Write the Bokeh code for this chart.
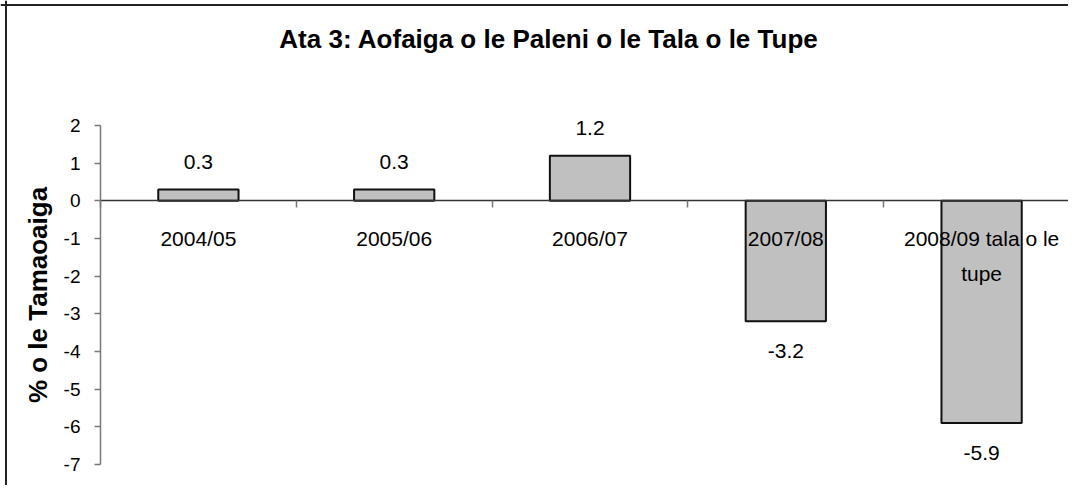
from bokeh.plotting import figure
from bokeh.models import (ColumnDataSource, FixedTicker, Range1d, Label, Span,
                          LinearAxis, CustomJSTickFormatter)
from bokeh.core.properties import value
from bokeh.embed import file_html
from bokeh.resources import INLINE

# ---- data ----
categories = ["2004/05", "2005/06", "2006/07", "2007/08", "2008/09 tala o le\ntupe"]
values = [0.3, 0.3, 1.2, -3.2, -5.9]
value_labels = ["0.3", "0.3", "1.2", "-3.2", "-5.9"]
y_ticks = [-7, -6, -5, -4, -3, -2, -1, 0, 1, 2]
title_text = "Ata 3: Aofaiga o le Paleni o le Tala o le Tupe"
y_title = "% o le Tamaoaiga"

FONT = "Liberation Sans"
n = len(categories)
xs = list(range(1, n + 1))
src = ColumnDataSource(dict(
    x=xs, top=values, cat=categories, lab=value_labels,
    off=[-28 if v >= 0 else 30 for v in values],
))

# frame covers the whole canvas; axes are placed at fixed data locations
W, H = 1068, 485
px_x = 195.8      # pixels per category
px_y = 37.667     # pixels per unit
x0 = 0.5 - 100 / px_x
x1 = x0 + W / px_x
y1 = 2 + 125 / px_y
y0 = y1 - H / px_y

p = figure(width=W, height=H, output_backend="svg", toolbar_location=None,
           x_range=Range1d(x0, x1), y_range=Range1d(y0, y1),
           min_border=0, x_axis_location=None, y_axis_location=None)
p.outline_line_color = None
p.xgrid.visible = False
p.ygrid.visible = False
p.background_fill_color = "white"
p.border_fill_color = "white"

# y axis
ya = LinearAxis(fixed_location=0.5, bounds=(min(y_ticks), max(y_ticks)))
ya.ticker = FixedTicker(ticks=y_ticks)
ya.formatter = CustomJSTickFormatter(code="return tick.toFixed(0)")
ya.minor_tick_line_color = None
ya.major_tick_in = 0
ya.major_tick_out = 6
ya.axis_line_color = "#777777"
ya.major_tick_line_color = "#777777"
ya.axis_line_width = 1.5
ya.major_tick_line_width = 1.5
ya.major_label_text_font = FONT
ya.major_label_text_font_size = "19px"
ya.major_label_text_color = "black"
ya.major_label_standoff = 14
ya.axis_label = y_title
ya.axis_label_text_font = FONT
ya.axis_label_text_font_size = "26px"
ya.axis_label_text_font_style = "bold"
ya.axis_label_text_color = "black"
ya.axis_label_standoff = 8
p.add_layout(ya, "left")

# x axis at zero with category-boundary ticks
xa = LinearAxis(fixed_location=0, bounds=(0.5, n + 0.5))
xa.ticker = FixedTicker(ticks=[i + 0.5 for i in range(n + 1)])
xa.formatter = CustomJSTickFormatter(code="return ''")
xa.major_label_text_font_size = "0px"
xa.minor_tick_line_color = None
xa.major_tick_in = 0
xa.major_tick_out = 7
xa.axis_line_color = "#333333"
xa.major_tick_line_color = "#777777"
xa.axis_line_width = 1.5
xa.major_tick_line_width = 1.5
p.add_layout(xa, "below")

# bars
p.vbar(x="x", top="top", bottom=0, width=0.41, source=src,
       fill_color="#c0c0c0", line_color="#111111", line_width=2)

# value labels
p.text(x="x", y="top", text="lab", source=src, y_offset="off",
       text_align="center", text_baseline="middle",
       text_font=value(FONT), text_font_size="21px", text_color="black")

# category labels under zero line
p.text(x="x", y=0, text="cat", source=src, y_offset=26,
       text_align="center", text_baseline="top", text_line_height=1.55,
       text_font=value(FONT), text_font_size="21px", text_color="black")

# title
p.add_layout(Label(x=0.5 + (548.5 - 100) / px_x, y=2 + (125 - 38) / px_y, text=title_text,
                   text_align="center", text_baseline="middle",
                   text_font=FONT, text_font_size="26px", text_font_style="bold",
                   text_color="black"))

# chart border (top and left edges visible)
p.add_layout(Span(location=y1 - 4.5 / px_y, dimension="width", line_color="#222222", line_width=2))
p.add_layout(Span(location=x0 + 5.5 / px_x, dimension="height", line_color="#222222", line_width=2))

open("out.html", "w").write(file_html(p, INLINE))
